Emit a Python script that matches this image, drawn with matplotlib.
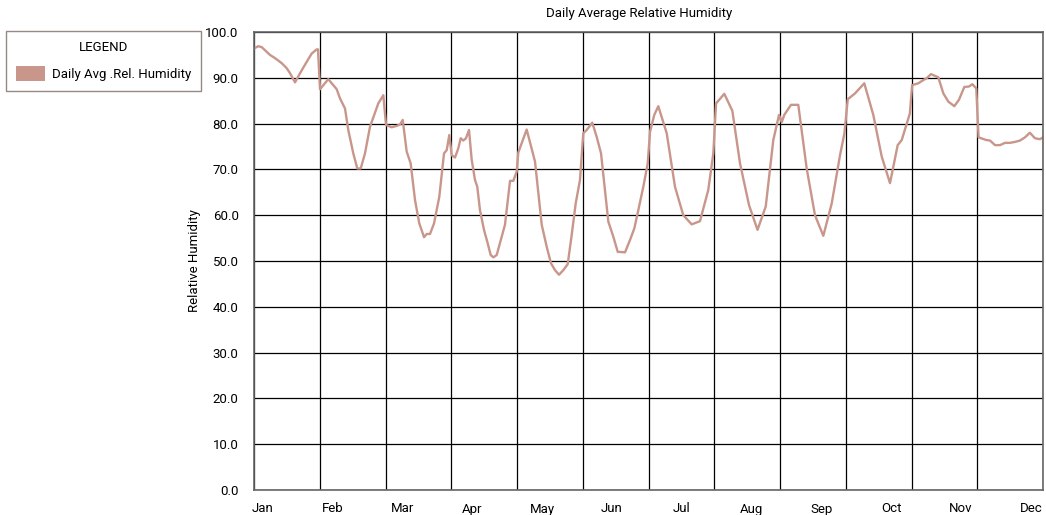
import matplotlib.pyplot as plt
from matplotlib.patches import Patch
import numpy as np

plt.rcParams['font.family'] = ['Roboto', 'DejaVu Sans']

# position in months from 1 Jan, daily average relative humidity (%)
month_pos = [
    0.00, 0.065, 0.117, 0.243, 0.319, 0.421, 0.497, 0.548, 0.624, 0.700, 0.802, 0.878, 0.954, 0.973,
    1.004, 1.130, 1.258, 1.308, 1.384, 1.434, 1.510, 1.571, 1.623, 1.688, 1.764, 1.890, 1.967,
    2.008, 2.094, 2.170, 2.221, 2.262, 2.322, 2.383, 2.449, 2.514, 2.586, 2.627, 2.677, 2.738, 2.818,
    2.890, 2.931, 2.970,
    3.007, 3.057, 3.107, 3.144, 3.183, 3.224, 3.270, 3.311, 3.361, 3.396, 3.437, 3.498, 3.548, 3.600,
    3.640, 3.691, 3.741, 3.817, 3.894, 3.944, 3.995,
    4.020, 4.147, 4.274, 4.376, 4.452, 4.517, 4.578, 4.639, 4.704, 4.771, 4.832, 4.893, 4.958,
    5.008, 5.060, 5.145, 5.212, 5.278, 5.338, 5.389, 5.465, 5.532, 5.643, 5.719, 5.784, 5.845, 5.921, 5.988,
    6.023, 6.088, 6.149, 6.277, 6.403, 6.529, 6.657, 6.783, 6.909, 6.986,
    7.027, 7.153, 7.275, 7.392, 7.529, 7.658, 7.783, 7.898, 7.985,
    8.026, 8.065, 8.167, 8.278, 8.406, 8.532, 8.659, 8.787, 8.913, 8.980,
    9.030, 9.141, 9.282, 9.419, 9.547, 9.673, 9.790, 9.851, 9.975,
    10.010, 10.103, 10.179, 10.231, 10.297, 10.408, 10.484, 10.560, 10.651, 10.722, 10.803, 10.875,
    10.925, 10.985,
    11.020, 11.140, 11.194, 11.270, 11.346, 11.422, 11.498, 11.574, 11.650, 11.726, 11.800, 11.878,
    11.954, 12.000,
]
rel_humidity = [
    96.4, 96.9, 96.7, 95.0, 94.3, 93.2, 92.1, 91.0, 89.0, 91.0, 93.5, 95.3, 96.2, 96.2,
    87.5, 89.7, 87.5, 85.5, 83.3, 78.6, 73.5, 70.2, 70.2, 73.5, 79.3, 84.4, 86.2,
    79.7, 79.2, 79.5, 79.8, 80.8, 73.9, 71.3, 63.3, 58.2, 55.2, 55.9, 55.9, 58.2, 64.0,
    73.5, 74.2, 77.5,
    73.1, 72.6, 74.6, 76.8, 76.3, 76.8, 78.6, 72.1, 67.7, 66.2, 61.1, 56.8, 54.2, 51.3,
    50.8, 51.3, 53.9, 57.9, 67.5, 67.5, 69.5,
    73.7, 78.7, 71.7, 57.9, 53.1, 49.5, 48.0, 47.0, 48.0, 49.3, 55.7, 62.6, 67.7,
    77.9, 78.6, 80.2, 77.1, 73.5, 65.5, 58.6, 55.3, 52.0, 51.9, 54.6, 57.1, 61.1, 66.2, 71.3,
    78.2, 81.9, 83.8, 77.9, 66.2, 60.0, 58.0, 58.7, 65.5, 73.5,
    84.4, 86.5, 82.8, 71.3, 62.2, 56.8, 61.9, 76.4, 81.9,
    80.3, 81.9, 84.1, 84.1, 70.2, 60.0, 55.5, 62.6, 73.1, 77.9,
    85.3, 86.6, 88.8, 81.9, 72.8, 67.0, 75.3, 76.4, 82.2,
    88.4, 88.8, 89.5, 89.9, 90.8, 90.1, 86.6, 84.8, 83.8, 85.2, 88.0, 88.1,
    88.6, 87.7,
    77.0, 76.4, 76.3, 75.3, 75.3, 75.8, 75.8, 76.0, 76.3, 77.0, 78.0, 76.8,
    76.6, 77.0,
]
months = ['Jan', 'Feb', 'Mar', 'Apr', 'May', 'Jun', 'Jul', 'Aug', 'Sep', 'Oct', 'Nov', 'Dec']

line_color = '#c8968b'

fig = plt.figure(figsize=(10.46, 5.15), dpi=100)
ax = fig.add_axes([254 / 1046, 1 - 490 / 515, 789 / 1046, 458 / 515])

ax.plot(month_pos, rel_humidity, color=line_color, lw=1.7, solid_joinstyle='round')

ax.set_xlim(0, 12)
ax.set_ylim(0, 100)

# grid on month boundaries, labels spread evenly underneath
ax.set_xticks(np.arange(0, 13))
ax.set_xticklabels([])
ax.set_xticks(0.137 + 1.0617 * np.arange(12), minor=True)
ax.set_xticklabels(months, minor=True)
ax.tick_params(axis='x', which='both', length=0, pad=9, labelsize=9.5)

ax.set_yticks(np.arange(0, 101, 10))
ax.set_yticklabels([f'{v:.1f}' for v in np.arange(0, 101, 10)])
ax.tick_params(axis='y', length=0, pad=11, labelsize=9.5)

ax.grid(True, which='major', color='black', lw=0.9)
ax.set_axisbelow(True)
for s in ax.spines.values():
    s.set_color('#666666')
    s.set_linewidth(1.2)

ax.set_ylabel('Relative Humidity', fontsize=9.5, labelpad=3)

fig.text(639 / 1046, 1 - 13 / 515, 'Daily Average Relative Humidity', ha='center', va='center', fontsize=9.5)

leg = fig.legend(handles=[Patch(facecolor=line_color, edgecolor='none', label='Daily Avg .Rel. Humidity')],
                 title='LEGEND', loc='upper left', bbox_to_anchor=(6 / 1046, 1 - 31 / 515),
                 fancybox=False, frameon=True, edgecolor='#7d6a66', fontsize=9.5, title_fontsize=9.5,
                 handlelength=2.2, handleheight=1.3, handletextpad=0.5, borderpad=0.75, borderaxespad=0)
leg.get_frame().set_linewidth(1.0)
leg._legend_box.sep = 9

fig.savefig('out.png', dpi=100)
